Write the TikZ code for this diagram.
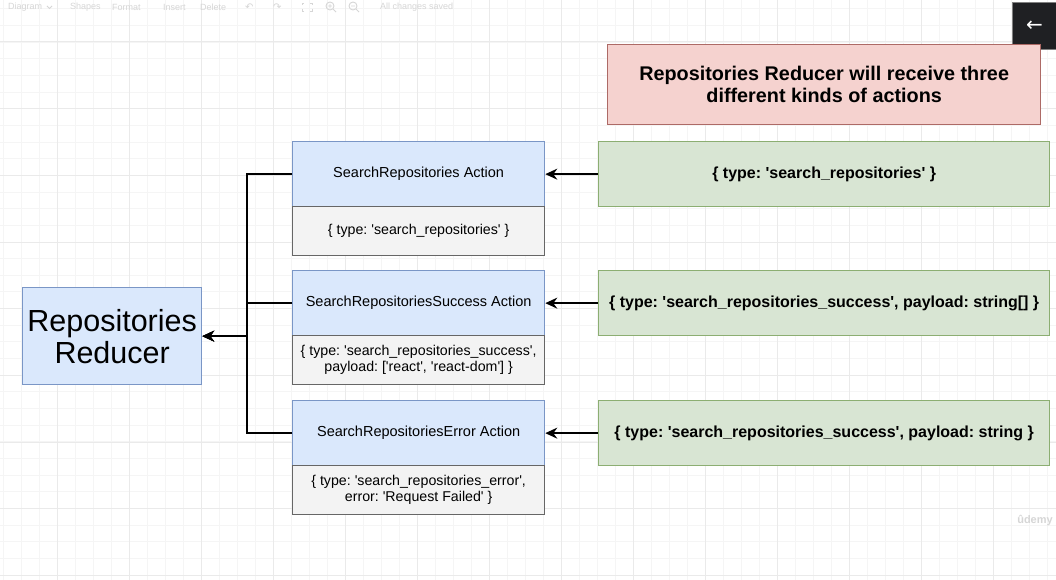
\documentclass[tikz,border=0pt]{standalone}
\usepackage{fontspec}
\setmainfont{Liberation Sans}
\newfontfamily\djv{DejaVu Sans}
\usetikzlibrary{arrows.meta}
\frenchspacing
\newcommand{\sq}{\textquotesingle}
\definecolor{hdrfill}{HTML}{DAE8FC}
\definecolor{hdrline}{HTML}{7A96C6}
\definecolor{bodyfill}{HTML}{F3F3F3}
\definecolor{bodyline}{HTML}{666666}
\definecolor{grnfill}{HTML}{D8E5D3}
\definecolor{grnline}{HTML}{8CAE72}
\definecolor{redfill}{HTML}{F5D2CF}
\definecolor{redline}{HTML}{AD6A66}
\definecolor{gridminor}{HTML}{F5F5F5}
\definecolor{gridmajor}{HTML}{EAEAEA}
\definecolor{uigray}{HTML}{D6D6D6}
\definecolor{btnfill}{HTML}{1F2023}
\begin{document}
\begin{tikzpicture}[x=1pt,y=-1pt,
  box/.style={rectangle,anchor=north west,inner sep=0pt,line width=1.3pt,align=center},
  hdr/.style={box,fill=hdrfill,draw=hdrline,minimum width=252pt,minimum height=65pt,font=\fontsize{14.5}{16}\selectfont},
  bdy/.style={box,fill=bodyfill,draw=bodyline,minimum width=252pt,minimum height=49pt,font=\fontsize{14.2}{16}\selectfont},
  grn/.style={box,fill=grnfill,draw=grnline,minimum width=451pt,minimum height=65pt,font=\bfseries\fontsize{16}{19}\selectfont},
  conn/.style={line width=1.6pt,-{Stealth[length=12pt,width=11pt,inset=4pt]}},
  uitext/.style={anchor=west,inner sep=0pt,text=uigray,font=\fontsize{9}{10}\selectfont},
  uiline/.style={uigray,line width=0.9pt}]
\useasboundingbox (0,0) rectangle (1056,580);
\fill[white] (0,0) rectangle (1056,580);
% grid
\foreach \x in {3,21,...,1056} \draw[gridminor,line width=0.8pt] (\x,0) -- (\x,580);
\foreach \y in {8.67,25.33,...,580} \draw[gridminor,line width=0.8pt] (0,\y) -- (1056,\y);
\foreach \x in {57,129,...,1056} \draw[gridmajor,line width=1pt] (\x,0) -- (\x,580);
\foreach \y in {42,108.67,...,580} \draw[gridmajor,line width=1pt] (0,\y) -- (1056,\y);
% toolbar (faint)
\node[uitext] (tb1) at (8,7) {Diagram};
\draw[uiline] (47,6) -- (49.5,8.5) -- (52,6);
\node[uitext] (tb2) at (70,7) {Shapes};
\node[uitext] (tb3) at (112,7) {Format};
\node[uitext] (tb4) at (163,7) {Insert};
\node[uitext] (tb5) at (200,7) {Delete};
\node[uitext,font=\djv\fontsize{10}{10}\selectfont] (tb6) at (245,7) {↶};
\node[uitext,font=\djv\fontsize{10}{10}\selectfont] (tb7) at (273,7) {↷};
\draw[uiline] (302,5) -- (302,3) -- (304,3) (310,3) -- (312,3) -- (312,5) (312,9) -- (312,11) -- (310,11) (304,11) -- (302,11) -- (302,9);
\draw[uiline] (330,6) circle (4) (333,9) -- (336,12) (328,6) -- (332,6) (330,4) -- (330,8);
\draw[uiline] (353,6) circle (4) (356,9) -- (359,12) (351,6) -- (355,6);
\node[uitext] (tb9) at (380,7) {All changes saved};
% back button
\node[rectangle,anchor=north west,fill=btnfill,draw=gray,line width=0.8pt,minimum width=44pt,minimum height=47pt,inner sep=0pt,text=white,font=\djv\fontsize{20}{20}\selectfont] (back) at (1012,2) {←};
% title
\node[box,fill=redfill,draw=redline,minimum width=433pt,minimum height=80pt,font=\bfseries\fontsize{19.8}{22}\selectfont] (title) at (607,44) {Repositories Reducer will receive three\\different kinds of actions};
% reducer
\node[box,fill=hdrfill,draw=hdrline,minimum width=179pt,minimum height=97pt,font=\fontsize{30.5}{32}\selectfont] (red) at (22,287) {Repositories\\Reducer};
% actions
\node[hdr] (h1) at (292,141) {SearchRepositories Action};
\node[bdy] (b1) at (292,206) {\{ type: \sq search\_repositories\sq\ \}};
\node[hdr] (h2) at (292,270) {SearchRepositoriesSuccess Action};
\node[bdy] (b2) at (292,335) {\{ type: \sq search\_repositories\_success\sq,\\payload: [\sq react\sq, \sq react-dom\sq] \}};
\node[hdr] (h3) at (292,400) {SearchRepositoriesError Action};
\node[bdy] (b3) at (292,465) {\{ type: \sq search\_repositories\_error\sq,\\error: \sq Request Failed\sq\ \}};
% green
\node[grn] (g1) at (598,141) {\{ type: \sq search\_repositories\sq\ \}};
\node[grn] (g2) at (598,270) {\{ type: \sq search\_repositories\_success\sq, payload: string[] \}};
\node[grn] (g3) at (598,400) {\{ type: \sq search\_repositories\_success\sq, payload: string \}};
% connectors
\draw[conn] (g1.west) -- (h1.east);
\draw[conn] (g2.west) -- (h2.east);
\draw[conn] (g3.west) -- (h3.east);
\draw[conn] (h1.west) -- ++(-45,0) |- (red.east);
\draw[conn] (h2.west) -- ++(-45,0) |- (red.east);
\draw[conn] (h3.west) -- ++(-45,0) |- (red.east);
% watermark
\node[anchor=center,inner sep=0pt,text=uigray,font=\bfseries\fontsize{11}{11}\selectfont] (wm) at (1035,521) {ûdemy};
\end{tikzpicture}
\end{document}
